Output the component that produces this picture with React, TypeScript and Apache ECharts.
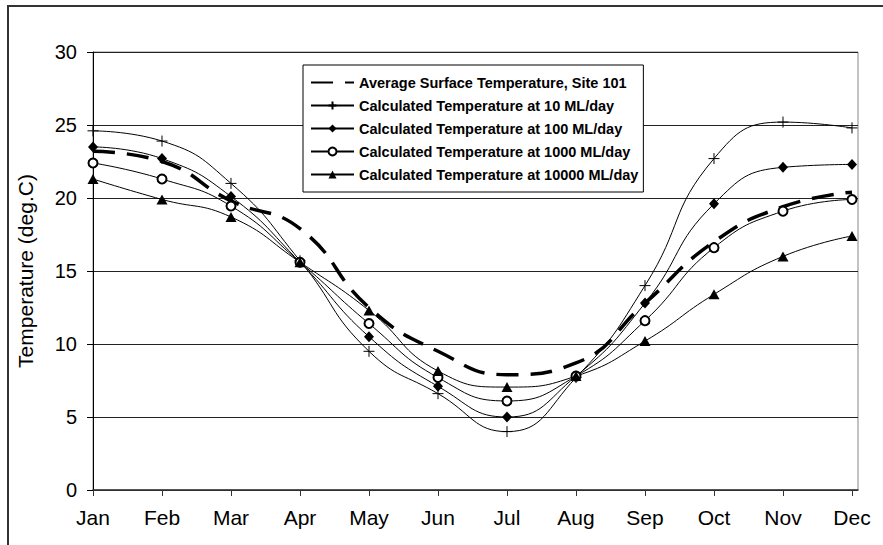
import React, { useEffect, useRef } from "react";
import * as echarts from "echarts";

// Monthly temperatures (deg.C)
const months = ["Jan", "Feb", "Mar", "Apr", "May", "Jun", "Jul", "Aug", "Sep", "Oct", "Nov", "Dec"];
const avgSurface = [23.2, 22.5, 19.8, 17.9, 12.5, 9.5, 7.9, 8.7, 12.8, 17.0, 19.4, 20.4];
const calc10 = [24.6, 23.9, 21.0, 15.7, 9.5, 6.6, 4.0, 7.7, 14.0, 22.7, 25.2, 24.8];
const calc100 = [23.5, 22.7, 20.1, 15.6, 10.5, 7.1, 5.0, 7.8, 12.8, 19.6, 22.1, 22.3];
const calc1000 = [22.4, 21.3, 19.45, 15.6, 11.4, 7.7, 6.1, 7.8, 11.6, 16.6, 19.1, 19.9];
const calc10000 = [21.3, 19.9, 18.7, 15.6, 12.3, 8.15, 7.05, 7.8, 10.2, 13.4, 16.0, 17.4];

const seriesNames = [
  "Average Surface Temperature, Site 101",
  "Calculated Temperature at 10 ML/day",
  "Calculated Temperature at 100 ML/day",
  "Calculated Temperature at 1000 ML/day",
  "Calculated Temperature at 10000 ML/day",
];

const FONT = "'Liberation Sans', Arial, sans-serif";
const PLUS = "path://M6,0L6,12M0,6L12,6";

const toPoints = (vals: number[]) => vals.map((v, i) => [i, v]);

export default function App() {
  const ref = useRef<HTMLDivElement>(null);

  useEffect(() => {
    if (!ref.current) return;
    const chart = echarts.init(ref.current, null, { renderer: "svg" });
    const monthIdx = months.map((_, i) => i);

    const thin = { color: "#000", width: 1 };

    chart.setOption({
      animation: false,
      backgroundColor: "#fff",
      textStyle: { fontFamily: FONT },
      graphic: [
        {
          type: "rect",
          shape: { x: 8, y: 6, width: 900, height: 600 },
          style: { fill: "none", stroke: "#333", lineWidth: 2 },
          silent: true,
          z: -10,
        },
      ],
      grid: {
        left: 93,
        top: 52,
        right: 25,
        bottom: 55,
        show: true,
        borderColor: "#888",
        borderWidth: 1,
        backgroundColor: "transparent",
      },
      legend: {
        orient: "vertical",
        left: 303,
        top: 65,
        padding: [10, 5, 10, 7],
        itemWidth: 43,
        itemHeight: 10,
        itemGap: 8,
        backgroundColor: "#fff",
        borderColor: "#000",
        borderWidth: 1,
        textStyle: { fontFamily: FONT, fontSize: 14.5, fontWeight: "bold", color: "#000" },
        data: [
          { name: seriesNames[0], itemStyle: { opacity: 0 } },
          seriesNames[1],
          seriesNames[2],
          seriesNames[3],
          seriesNames[4],
        ],
        z: 10,
      },
      xAxis: {
        type: "value",
        min: 0,
        max: 11.087,
        interval: 1,
        axisLine: { show: true, onZero: false, lineStyle: { color: "#333", width: 1.5 } },
        axisTick: { show: true, length: 6, lineStyle: { color: "#333" }, customValues: monthIdx },
        axisLabel: {
          customValues: monthIdx,
          formatter: (v: number) => months[Math.round(v)] ?? "",
          fontFamily: FONT,
          fontSize: 21,
          color: "#000",
          margin: 17,
        },
        splitLine: { show: false },
      },
      yAxis: {
        type: "value",
        min: 0,
        max: 30,
        interval: 5,
        name: "Temperature (deg.C)",
        nameLocation: "middle",
        nameGap: 57,
        nameTextStyle: { fontFamily: FONT, fontSize: 21, color: "#000" },
        axisLine: { show: true, lineStyle: { color: "#000", width: 1 } },
        axisTick: { show: true, length: 6, lineStyle: { color: "#000" } },
        axisLabel: { fontFamily: FONT, fontSize: 20, color: "#000", margin: 16 },
        splitLine: { show: true, lineStyle: { color: "#222", width: 1 } },
      },
      series: [
        {
          name: seriesNames[0],
          type: "line",
          smooth: 0.5,
          symbol: "none",
          data: toPoints(avgSurface),
          lineStyle: { color: "#000", width: 3.5, type: [22, 12] },
          itemStyle: { color: "#000" },
          z: 3,
        },
        {
          name: seriesNames[1],
          type: "line",
          smooth: 0.5,
          symbol: PLUS,
          symbolSize: 11,
          data: toPoints(calc10),
          lineStyle: thin,
          itemStyle: { color: "#000", borderColor: "#000", borderWidth: 1 },
        },
        {
          name: seriesNames[2],
          type: "line",
          smooth: 0.5,
          symbol: "diamond",
          symbolSize: [10, 11],
          data: toPoints(calc100),
          lineStyle: thin,
          itemStyle: { color: "#000", borderWidth: 0 },
        },
        {
          name: seriesNames[3],
          type: "line",
          smooth: 0.5,
          symbol: "emptyCircle",
          symbolSize: 9,
          data: toPoints(calc1000),
          lineStyle: thin,
          itemStyle: { color: "#000", borderColor: "#000", borderWidth: 1 },
        },
        {
          name: seriesNames[4],
          type: "line",
          smooth: 0.5,
          symbol: "triangle",
          symbolSize: [11, 10],
          data: toPoints(calc10000),
          lineStyle: thin,
          itemStyle: { color: "#000", borderWidth: 0 },
        },
      ],
    });

    return () => chart.dispose();
  }, []);

  return (
    <div
      ref={ref}
      style={{ position: "absolute", left: 0, top: 0, width: 883, height: 545 }}
    />
  );
}
